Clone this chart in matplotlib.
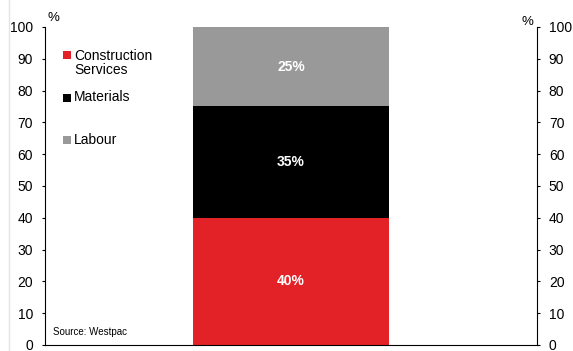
import matplotlib.pyplot as plt
from matplotlib.lines import Line2D

plt.rcParams['font.family'] = ['Liberation Sans', 'DejaVu Sans']

# cost shares of the building, stacked from the bottom
componentes = ["Construction\nServices", "Materials", "Labour"]
valores = [40, 35, 25]
cores = ["#e32227", "#000000", "#999999"]
rotulos = ["40%", "35%", "25%"]
ticks_y = list(range(0, 101, 10))

W, H = 573, 351
fig = plt.figure(figsize=(W / 100, H / 100), dpi=100)
ax = fig.add_axes([45 / W, 1 - 345 / H, 492 / W, 318 / H])

base = 0
for v, c, r in zip(valores, cores, rotulos):
    ax.bar(0, v, width=1.0, bottom=base, color=c, linewidth=0)
    ax.text(0, base + v / 2, r, ha="center", va="center",
            color="white", fontsize=10, fontweight="bold")
    base += v

ax.set_xlim(-1.26, 1.26)
ax.set_ylim(0, 100)
ax.set_xticks([])
ax.set_yticks(ticks_y)
ax.tick_params(axis="y", labelsize=10, length=2.5, width=0.8, pad=6)
for s in ["top", "right"]:
    ax.spines[s].set_visible(False)
ax.spines["left"].set_linewidth(0.8)
ax.spines["bottom"].set_linewidth(0.8)

# eixo da direita com a mesma escala
ax2 = ax.twinx()
ax2.set_ylim(0, 100)
ax2.set_yticks(ticks_y)
ax2.tick_params(axis="y", labelsize=10, length=2.5, width=0.8, pad=6)
for s in ["top", "left", "bottom"]:
    ax2.spines[s].set_visible(False)
ax2.spines["right"].set_linewidth(0.8)

fig.text(48 / W, 1 - 18 / H, "%", fontsize=9.5, ha="left", va="center")
fig.text(533 / W, 1 - 22 / H, "%", fontsize=9.5, ha="right", va="center")

# legenda manual, um item por bloco
pos_quadrado = [55, 98, 140]
pos_texto = [63, 97, 140]
for nome, c, yq, yt in zip(componentes, cores, pos_quadrado, pos_texto):
    fig.patches.append(plt.Rectangle((63 / W, 1 - (yq + 4) / H),
                                     8 / W, 8 / H, color=c, linewidth=0,
                                     transform=fig.transFigure, figure=fig))
    fig.text(74 / W, 1 - yt / H, nome, fontsize=10, ha="left",
             va="center", linespacing=1.08)

fig.text(53 / W, 1 - 332 / H, "Source: Westpac", fontsize=7,
         ha="left", va="center")

fig.add_artist(Line2D([9 / W, 9 / W], [0, 1], color="#e4e4e4",
                      linewidth=1, transform=fig.transFigure))

fig.savefig("out.png", dpi=100)
plt.close(fig)
